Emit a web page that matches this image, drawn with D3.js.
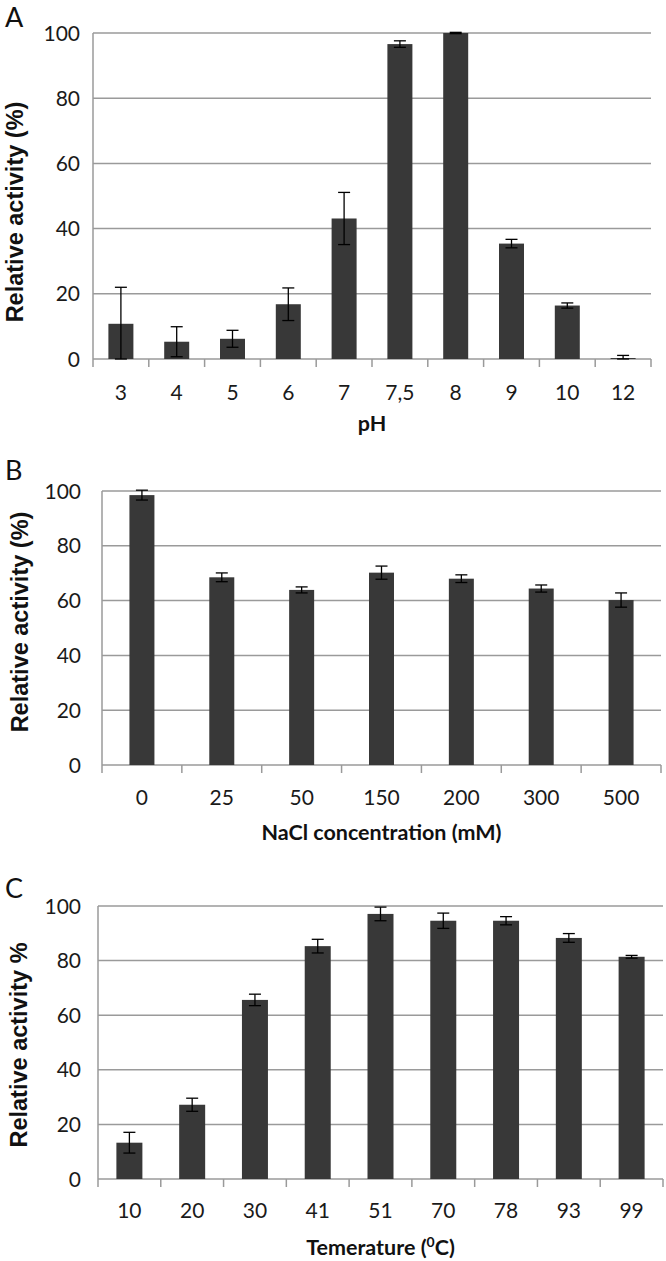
<!DOCTYPE html>
<html>
<head>
<meta charset="utf-8">
<script src="https://cdn.jsdelivr.net/npm/d3@7"></script>
<style>
  html, body { margin: 0; padding: 0; background: #fff; }
  svg { display: block; }
</style>
</head>
<body>
<svg id="chart" width="666" height="1261"></svg>
<script>
// ---- Data ----
const phCategories = ["3", "4", "5", "6", "7", "7,5", "8", "9", "10", "12"];
const phValues = [10.8, 5.3, 6.2, 16.8, 43.1, 96.6, 100, 35.4, 16.4, 0.3];
const phErrors = [11.2, 4.6, 2.6, 5.0, 8.0, 1.0, 0.2, 1.3, 0.8, 0.8];

const naclCategories = ["0", "25", "50", "150", "200", "300", "500"];
const naclValues = [98.5, 68.5, 63.9, 70.2, 68.0, 64.4, 60.2];
const naclErrors = [1.8, 1.6, 1.1, 2.4, 1.4, 1.3, 2.6];

const tempCategories = ["10", "20", "30", "41", "51", "70", "78", "93", "99"];
const tempValues = [13.3, 27.2, 65.6, 85.3, 97.1, 94.6, 94.6, 88.3, 81.4];
const tempErrors = [3.8, 2.4, 2.1, 2.5, 2.5, 2.8, 1.5, 1.6, 0.5];

const yTicks = [0, 20, 40, 60, 80, 100];

// ---- Layout / style ----
const svg = d3.select("#chart");
const gridColor = "#9a9a9a";
const barColor = "#383838";
const tickFont = "Lato, 'Open Sans', sans-serif";
const yLabelFont = "'Liberation Sans', Arial, sans-serif";

function drawPanel(cfg, cats, vals, errs) {
  const g = svg.append("g");
  const x = d3.scaleBand().domain(cats).range([cfg.left, cfg.right]).padding(0);
  const y = d3.scaleLinear().domain([0, 100]).range([cfg.bottom, cfg.top]);

  // gridlines
  g.selectAll("line.grid").data(yTicks.filter(t => t > 0)).enter().append("line")
    .attr("x1", cfg.left).attr("x2", cfg.right)
    .attr("y1", d => y(d)).attr("y2", d => y(d))
    .attr("stroke", gridColor).attr("stroke-width", 1.5);

  // y axis line
  g.append("line")
    .attr("x1", cfg.left).attr("x2", cfg.left)
    .attr("y1", y(0)).attr("y2", y(100))
    .attr("stroke", gridColor).attr("stroke-width", 1.5);

  // x axis line + ticks at band boundaries
  g.append("line")
    .attr("x1", cfg.left).attr("x2", cfg.right)
    .attr("y1", y(0)).attr("y2", y(0))
    .attr("stroke", gridColor).attr("stroke-width", 1.5);
  const bounds = cats.map(c => x(c)).concat([x(cats[cats.length - 1]) + x.bandwidth()]);
  g.selectAll("line.xtick").data(bounds).enter().append("line")
    .attr("x1", d => d).attr("x2", d => d)
    .attr("y1", y(0)).attr("y2", y(0) + 8)
    .attr("stroke", gridColor).attr("stroke-width", 1.5);

  // y tick labels
  g.selectAll("text.ytick").data(yTicks).enter().append("text")
    .attr("x", cfg.yLabelRight).attr("y", d => y(d))
    .attr("dy", "0.36em")
    .attr("text-anchor", "end")
    .attr("font-family", tickFont).attr("font-size", 21).attr("fill", "#1a1a1a")
    .text(d => d);

  // bars
  const data = cats.map((c, i) => ({ c, v: vals[i], e: errs[i] }));
  g.selectAll("rect.bar").data(data).enter().append("rect")
    .attr("x", d => x(d.c) + x.bandwidth() / 2 - cfg.barW / 2)
    .attr("width", cfg.barW)
    .attr("y", d => y(d.v))
    .attr("height", d => y(0) - y(d.v))
    .attr("fill", barColor);

  // error bars
  const eb = g.selectAll("g.err").data(data).enter().append("g");
  eb.append("line")
    .attr("x1", d => x(d.c) + x.bandwidth() / 2).attr("x2", d => x(d.c) + x.bandwidth() / 2)
    .attr("y1", d => y(Math.max(0, d.v - d.e))).attr("y2", d => y(d.v + d.e))
    .attr("stroke", "#000").attr("stroke-width", 1.3);
  [1, -1].forEach(s => {
    eb.append("line")
      .attr("x1", d => x(d.c) + x.bandwidth() / 2 - 6).attr("x2", d => x(d.c) + x.bandwidth() / 2 + 6)
      .attr("y1", d => y(s > 0 ? d.v + d.e : Math.max(0, d.v - d.e)))
      .attr("y2", d => y(s > 0 ? d.v + d.e : Math.max(0, d.v - d.e)))
      .attr("stroke", "#000").attr("stroke-width", 1.3);
  });

  // x tick labels
  g.selectAll("text.xtick").data(cats).enter().append("text")
    .attr("x", d => x(d) + x.bandwidth() / 2).attr("y", cfg.xLabelY)
    .attr("dy", "0.36em")
    .attr("text-anchor", "middle")
    .attr("font-family", tickFont).attr("font-size", 21).attr("fill", "#1a1a1a")
    .text(d => d);

  // x title
  const xt = g.append("text")
    .attr("x", (cfg.left + cfg.right) / 2).attr("y", cfg.xTitleY)
    .attr("dy", "0.36em")
    .attr("text-anchor", "middle")
    .attr("font-family", tickFont).attr("font-weight", "bold").attr("font-size", 21.5).attr("fill", "#111");
  if (cfg.xTitleSup) {
    xt.append("tspan").text(cfg.xTitle[0]);
    xt.append("tspan").attr("baseline-shift", "super").attr("font-size", 14).text(cfg.xTitleSup);
    xt.append("tspan").text(cfg.xTitle[1]);
  } else {
    xt.text(cfg.xTitle);
  }

  // y title
  g.append("text")
    .attr("transform", `translate(${cfg.yTitleX},${cfg.yTitleY}) rotate(-90)`)
    .attr("text-anchor", "middle")
    .attr("font-family", yLabelFont).attr("font-weight", "bold").attr("font-size", 23.5).attr("fill", "#111")
    .text(cfg.yTitle);

  // panel letter
  g.append("text")
    .attr("x", 5).attr("y", cfg.letterY)
    .attr("font-family", tickFont).attr("font-size", 27).attr("fill", "#111")
    .text(cfg.letter);
}

drawPanel({
  left: 93, right: 651, top: 33, bottom: 359, barW: 25, yLabelRight: 80,
  xLabelY: 392, xTitleY: 423, xTitle: "pH",
  yTitle: "Relative activity (%)", yTitleX: 23, yTitleY: 212,
  letter: "A", letterY: 27
}, phCategories, phValues, phErrors);

drawPanel({
  left: 102, right: 661, top: 491, bottom: 765, barW: 25, yLabelRight: 81,
  xLabelY: 797, xTitleY: 832, xTitle: "NaCl concentration (mM)",
  yTitle: "Relative activity (%)", yTitleX: 28, yTitleY: 622,
  letter: "B", letterY: 480
}, naclCategories, naclValues, naclErrors);

drawPanel({
  left: 98, right: 663, top: 906, bottom: 1179, barW: 26, yLabelRight: 81,
  xLabelY: 1210, xTitleY: 1247, xTitle: ["Temerature (", "C)"], xTitleSup: "0",
  yTitle: "Relative activity %", yTitleX: 27, yTitleY: 1045,
  letter: "C", letterY: 898
}, tempCategories, tempValues, tempErrors);
</script>
</body>
</html>
